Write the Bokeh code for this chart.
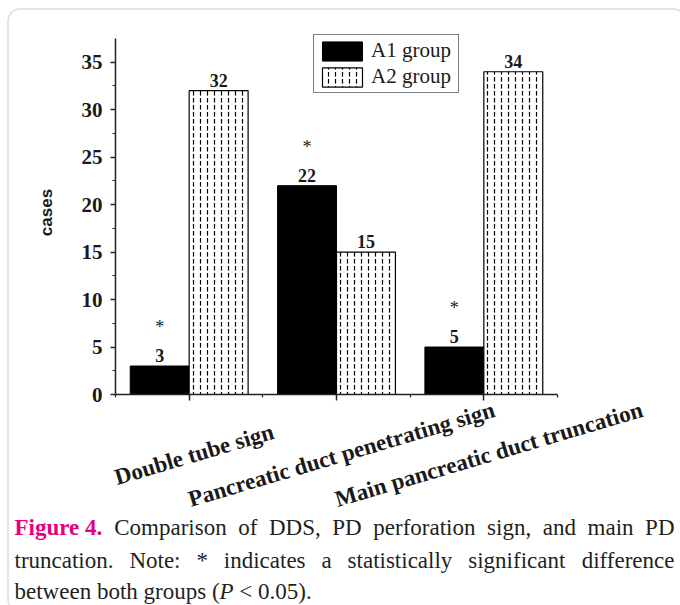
import math
from bokeh.plotting import figure
from bokeh.models import (Range1d, FixedTicker, Legend, LegendItem, PolyAnnotation,
                          ColumnDataSource)
from bokeh.core.properties import value
from bokeh.embed import file_html
from bokeh.resources import INLINE

# ---------------- data ----------------
categories = ["Double tube sign", "Pancreatic duct penetrating sign", "Main pancreatic duct truncation"]
series_names = ["A1 group", "A2 group"]
a1_values = [3, 22, 5]
a2_values = [32, 15, 34]
a1_significant = [True, True, True]
y_ticks = [0, 5, 10, 15, 20, 25, 30, 35]
y_minor_ticks = [2.5, 7.5, 12.5, 17.5, 22.5, 27.5, 32.5]
y_axis_title = "cases"
caption_label = "Figure 4."
caption_line1 = "Comparison of DDS, PD perforation sign, and main PD"
caption_line2 = "truncation. Note: * indicates a statistically significant difference"
caption_line3 = ["between both groups (", "P", "< 0.05)."]

# ---------------- geometry (page pixels) ----------------
W, H = 680, 605
AX_L, AX_R, AX_T, AX_B = 115, 557, 38, 394   # plotting area edges
X0, X1 = 0.5, 3.5
Y0, Y1 = 0.0, 37.5
PXX = (X1 - X0) / (AX_R - AX_L)
PXY = (Y1 - Y0) / (AX_B - AX_T)
XS = X0 - AX_L * PXX
XE = XS + W * PXX
YE = Y1 + AX_T * PXY
YS = YE - H * PXY

def dx(px):
    return XS + px * PXX

def dy(py):
    return YE - py * PXY

SERIF = "Liberation Serif"
INK = "#1a1a1a"

p = figure(width=W, height=H, x_range=Range1d(XS, XE), y_range=Range1d(YS, YE),
           output_backend="svg", toolbar_location=None, min_border=0)
p.title.visible = False
p.grid.visible = False
p.outline_line_color = None
p.background_fill_color = "white"
p.border_fill_color = "white"

xpos = [i + 1 for i in range(len(categories))]
bar_w = 0.4
src = ColumnDataSource(dict(
    x1=[x - bar_w / 2 for x in xpos], x2=[x + bar_w / 2 for x in xpos],
    a1=a1_values, a2=a2_values,
    a1_lab=[str(v) for v in a1_values], a2_lab=[str(v) for v in a2_values],
    a1_laby=[v + 10.5 * PXY for v in a1_values], a2_laby=[v + 10.5 * PXY for v in a2_values],
))

r1 = p.vbar(x="x1", top="a1", bottom=0, width=bar_w, source=src, fill_color="black",
            line_color="black", line_width=1)
r2 = p.vbar(x="x2", top="a2", bottom=0, width=bar_w, source=src, fill_color="white",
            line_color="black", line_width=1.2, hatch_pattern=":", hatch_color="black",
            hatch_scale=7, hatch_weight=1.2)

for xcol, ycol, tcol in (("x1", "a1_laby", "a1_lab"), ("x2", "a2_laby", "a2_lab")):
    p.text(x=xcol, y=ycol, text=tcol, source=src, text_font=value(SERIF),
           text_font_style="bold", text_font_size="18px", text_align="center",
           text_baseline="middle", text_color=INK)

star_x = [x - bar_w / 2 for x, s in zip(xpos, a1_significant) if s]
star_y = [v + 39 * PXY for v, s in zip(a1_values, a1_significant) if s]
p.text(x=star_x, y=star_y, text=["*"] * len(star_x), text_font=value(SERIF),
       text_font_size="18px", text_align="center", text_baseline="middle",
       text_color=INK)

# ---------------- axes (drawn at fixed data locations) ----------------
xa = p.xaxis[0]
xa.fixed_location = Y0
xa.bounds = (X0, X1)
xa.ticker = FixedTicker(ticks=xpos, minor_ticks=[x - 0.5 for x in xpos] + [xpos[-1] + 0.5])
xa.major_label_overrides = {x: "" for x in xpos}
xa.major_tick_out = 6
xa.major_tick_in = 0
xa.minor_tick_out = 3
xa.minor_tick_in = 0
xa.axis_line_width = 1.5
xa.axis_line_color = "#222222"
xa.major_tick_line_color = "#222222"
xa.minor_tick_line_color = "#222222"
xa.major_tick_line_width = 1.5
xa.minor_tick_line_width = 1.2

ya = p.yaxis[0]
ya.fixed_location = X0
ya.bounds = (Y0, Y1)
ya.ticker = FixedTicker(ticks=y_ticks, minor_ticks=y_minor_ticks)
ya.major_label_text_font = SERIF
ya.major_label_text_font_style = "bold"
ya.major_label_text_font_size = "21px"
ya.major_label_text_color = INK
ya.major_label_standoff = 8
ya.major_tick_out = 5
ya.major_tick_in = 0
ya.minor_tick_out = 3
ya.minor_tick_in = 0
ya.axis_line_width = 1.5
ya.axis_line_color = "#222222"
ya.major_tick_line_color = "#222222"
ya.minor_tick_line_color = "#222222"
ya.major_tick_line_width = 1.5
ya.minor_tick_line_width = 1.2

p.text(x=[dx(46)], y=[dy(212)], text=[y_axis_title], angle=math.pi / 2,
       text_align="center", text_baseline="middle",
       text_font=value("Liberation Sans"), text_font_style="bold",
       text_font_size="17px", text_color=INK)

# category labels (rotated)
p.text(x=[xc + 5 * PXX for xc in xpos], y=[dy(454)] * len(xpos), text=categories,
       angle=math.radians(16.5), text_align="center", text_baseline="middle",
       text_font=value(SERIF), text_font_style="bold", text_font_size="23px",
       text_color=INK)

# ---------------- legend ----------------
legend = Legend(items=[LegendItem(label=series_names[0], renderers=[r1]),
                       LegendItem(label=series_names[1], renderers=[r2])],
                location=(313, H - 93), orientation="vertical",
                border_line_color="black", border_line_width=1.5,
                background_fill_color="white", background_fill_alpha=1,
                padding=3, spacing=1, margin=0, glyph_width=50, glyph_height=24,
                label_standoff=4, label_width=84, label_text_font=SERIF,
                label_text_font_size="21px", label_text_color=INK, label_height=24)
p.add_layout(legend)

# ---------------- frame border ----------------
rad = 12
left, top, right, bottom = 7.5, 8.5, 685, 611
pts = []
def arc(cx, cy, a0, a1, n=10):
    for k in range(n + 1):
        a = a0 + (a1 - a0) * k / n
        pts.append((cx + rad * math.cos(a), cy - rad * math.sin(a)))
arc(left + rad, bottom - rad, -math.pi / 2, -math.pi)
arc(left + rad, top + rad, math.pi, math.pi / 2)
arc(right - rad, top + rad, math.pi / 2, 0)
arc(right - rad, bottom - rad, 0, -math.pi / 2)
p.add_layout(PolyAnnotation(xs=[dx(a) for a, b in pts], ys=[dy(b) for a, b in pts],
                            fill_color=None, fill_alpha=0, line_color="#8a8a8a",
                            line_width=1.5))

# ---------------- caption (justified words) ----------------
TR = {' ': 250, '*': 500, '(': 333, ')': 333, ',': 250, '.': 250, ':': 278, '<': 564,
      '0': 500, '5': 500, 'C': 667, 'D': 722, 'N': 722, 'P': 556, 'S': 556, 'a': 444,
      'b': 500, 'c': 444, 'd': 500, 'e': 444, 'f': 333, 'g': 500, 'h': 500, 'i': 278,
      'l': 278, 'm': 778, 'n': 500, 'o': 500, 'p': 500, 'r': 333, 's': 389, 't': 278,
      'u': 500, 'w': 722, 'y': 500}
TB = {' ': 250, '.': 250, '4': 500, 'F': 611, 'e': 444, 'g': 500, 'i': 278, 'r': 444, 'u': 556}
TI = {'P': 611}
CS = 23  # caption font size px

def tw(s, table):
    return sum(table.get(c, 500) for c in s) * CS / 1000.0

CAP_L, CAP_R = 14, 674
MAGENTA = "#E6007E"
CAP_INK = "#231F20"

groups = {"reg_left": ([], [], []), "reg_right": ([], [], []),
          "bold": ([], [], []), "italic": ([], [], [])}

def put(group, x, yc, text):
    g = groups[group]
    g[0].append(dx(x)); g[1].append(dy(yc)); g[2].append(text)

def justify(words, yc):
    widths = [tw(w, t) for w, grp, t in words]
    gap = (CAP_R - CAP_L - sum(widths)) / (len(words) - 1)
    x = CAP_L
    for i, ((w, grp, t), wd) in enumerate(zip(words, widths)):
        if i == len(words) - 1:
            put("reg_right", CAP_R, yc, w)
        else:
            put(grp, x, yc, w)
        x += wd + gap

line1 = [(caption_label, "bold", TB)] + [(w, "reg_left", TR) for w in caption_line1.split()]
justify(line1, 527)
line2 = [(w, "reg_left", TR) for w in caption_line2.split()]
justify(line2, 560)
x = CAP_L
put("reg_left", x, 591, caption_line3[0])
x += tw(caption_line3[0], TR)
put("italic", x, 591, caption_line3[1])
x += tw(caption_line3[1], TI) + tw(" ", TR)
put("reg_left", x, 591, caption_line3[2])

styles = {"reg_left": ("normal", CAP_INK, "left"), "reg_right": ("normal", CAP_INK, "right"),
          "bold": ("bold", MAGENTA, "left"), "italic": ("italic", CAP_INK, "left")}
for name, (gx, gy, gt) in groups.items():
    if not gt:
        continue
    st, col, al = styles[name]
    p.text(x=gx, y=gy, text=gt, text_font=value(SERIF), text_font_style=st,
           text_font_size=f"{CS}px", text_color=col, text_align=al,
           text_baseline="middle")

open("out.html", "w").write(file_html(p, INLINE))
